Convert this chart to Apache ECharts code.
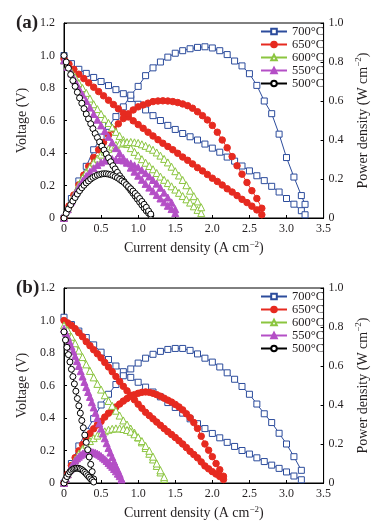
<!DOCTYPE html>
<html><head><meta charset="utf-8">
<script src="https://cdn.jsdelivr.net/npm/echarts@6/dist/echarts.min.js"></script>
<style>html,body{margin:0;padding:0;background:#fff}#c{width:378px;height:528px}</style>
</head><body><div id="c"></div>
<script>
// ---------- Panel (a) ----------
const a_I700 = [0,0.1,0.2,0.3,0.4,0.5,0.6,0.7,0.8,0.9,1.0,1.1,1.2,1.3,1.4,1.5,1.6,1.7,1.8,1.9,2.0,2.1,2.2,2.3,2.4,2.5,2.6,2.7,2.8,2.9,3.0,3.1,3.2,3.25];
const a_V700 = [1.00,0.95,0.915,0.89,0.865,0.84,0.815,0.79,0.765,0.735,0.70,0.665,0.63,0.60,0.57,0.545,0.52,0.50,0.48,0.455,0.43,0.405,0.375,0.35,0.32,0.29,0.26,0.23,0.195,0.16,0.12,0.085,0.045,0.02];
const a_P700 = [0,0.1,0.19,0.265,0.35,0.415,0.47,0.52,0.57,0.63,0.675,0.73,0.77,0.80,0.825,0.845,0.858,0.868,0.875,0.878,0.872,0.858,0.838,0.805,0.78,0.74,0.68,0.60,0.535,0.43,0.31,0.21,0.115,0.07];

const a_I650 = [0,0.067,0.133,0.2,0.267,0.333,0.4,0.467,0.533,0.6,0.667,0.733,0.8,0.867,0.933,1.0,1.067,1.133,1.2,1.267,1.333,1.4,1.467,1.533,1.6,1.667,1.733,1.8,1.867,1.933,2.0,2.067,2.133,2.2,2.267,2.333,2.4,2.467,2.533,2.6,2.667];
const a_V650 = [0.98,0.947,0.915,0.885,0.858,0.832,0.805,0.778,0.752,0.725,0.698,0.672,0.645,0.622,0.598,0.575,0.552,0.528,0.505,0.482,0.46,0.44,0.42,0.398,0.375,0.355,0.333,0.31,0.29,0.268,0.245,0.225,0.203,0.18,0.16,0.138,0.115,0.095,0.073,0.05,0.02];
const a_P650 = [0,0.062,0.118,0.17,0.22,0.265,0.31,0.35,0.388,0.425,0.455,0.483,0.51,0.534,0.554,0.57,0.58,0.589,0.597,0.6,0.601,0.6,0.597,0.592,0.585,0.576,0.563,0.545,0.525,0.503,0.475,0.44,0.4,0.36,0.315,0.268,0.225,0.182,0.14,0.10,0.05];

const a_I600 = [0,0.05,0.1,0.15,0.2,0.25,0.3,0.35,0.4,0.45,0.5,0.55,0.6,0.65,0.7,0.75,0.8,0.85,0.9,0.95,1.0,1.05,1.1,1.15,1.2,1.25,1.3,1.35,1.4,1.45,1.5,1.55,1.6,1.65,1.7,1.75,1.8,1.85];
const a_V600 = [0.97,0.935,0.90,0.865,0.83,0.80,0.77,0.735,0.70,0.67,0.64,0.61,0.585,0.557,0.53,0.505,0.48,0.455,0.43,0.407,0.385,0.362,0.34,0.32,0.30,0.277,0.255,0.235,0.215,0.195,0.175,0.155,0.135,0.115,0.095,0.072,0.05,0.03];
const a_P600 = [0,0.046,0.09,0.13,0.17,0.205,0.235,0.26,0.285,0.305,0.325,0.34,0.355,0.366,0.375,0.382,0.387,0.389,0.39,0.388,0.385,0.378,0.37,0.36,0.35,0.336,0.32,0.303,0.285,0.263,0.24,0.218,0.195,0.168,0.14,0.112,0.085,0.055];

const a_I550 = [0,0.05,0.1,0.15,0.2,0.25,0.3,0.35,0.4,0.45,0.5,0.55,0.6,0.65,0.7,0.75,0.8,0.85,0.9,0.95,1.0,1.05,1.1,1.15,1.2,1.25,1.3,1.35,1.4,1.45,1.5];
const a_V550 = [0.97,0.93,0.89,0.845,0.80,0.76,0.72,0.68,0.64,0.605,0.57,0.535,0.50,0.465,0.43,0.40,0.37,0.34,0.31,0.285,0.26,0.235,0.21,0.187,0.165,0.142,0.12,0.097,0.075,0.055,0.03];
const a_P550 = [0,0.045,0.085,0.125,0.16,0.19,0.215,0.237,0.255,0.272,0.285,0.294,0.30,0.302,0.30,0.298,0.295,0.288,0.28,0.27,0.26,0.245,0.23,0.213,0.195,0.176,0.155,0.13,0.105,0.08,0.045];

const a_I500 = [0,0.03,0.06,0.09,0.12,0.15,0.18,0.21,0.24,0.27,0.30,0.33,0.36,0.39,0.42,0.45,0.48,0.51,0.54,0.57,0.60,0.63,0.66,0.69,0.72,0.75,0.78,0.81,0.84,0.87,0.90,0.93,0.96,0.99,1.02,1.05,1.08,1.11,1.14,1.17];
const a_V500 = [1.0,0.96,0.922,0.883,0.846,0.81,0.774,0.739,0.706,0.673,0.64,0.61,0.58,0.55,0.52,0.495,0.468,0.442,0.418,0.394,0.37,0.346,0.322,0.302,0.281,0.26,0.242,0.224,0.206,0.188,0.17,0.152,0.134,0.116,0.098,0.08,0.062,0.044,0.03,0.015];
const a_P500 = [0,0.024,0.047,0.068,0.087,0.105,0.123,0.14,0.155,0.168,0.18,0.19,0.2,0.208,0.214,0.22,0.223,0.226,0.227,0.227,0.225,0.222,0.218,0.212,0.206,0.198,0.19,0.182,0.171,0.161,0.15,0.138,0.126,0.114,0.1,0.085,0.07,0.055,0.036,0.02];

// ---------- Panel (b) ----------
const b_I700 = [0,0.1,0.2,0.3,0.4,0.5,0.6,0.7,0.8,0.9,1.0,1.1,1.2,1.3,1.4,1.5,1.6,1.7,1.8,1.9,2.0,2.1,2.2,2.3,2.4,2.5,2.6,2.7,2.8,2.9,3.0,3.1,3.2];
const b_V700 = [1.02,0.975,0.935,0.895,0.85,0.805,0.76,0.72,0.685,0.65,0.62,0.59,0.56,0.53,0.495,0.465,0.43,0.395,0.365,0.335,0.305,0.278,0.25,0.225,0.2,0.178,0.155,0.132,0.11,0.09,0.068,0.043,0.02];
const b_P700 = [0,0.1,0.19,0.265,0.33,0.40,0.455,0.505,0.55,0.585,0.615,0.64,0.66,0.675,0.685,0.69,0.69,0.68,0.662,0.64,0.62,0.595,0.565,0.532,0.495,0.455,0.405,0.355,0.31,0.255,0.20,0.135,0.065];

const b_I650 = [0,0.05,0.1,0.15,0.2,0.25,0.3,0.35,0.4,0.45,0.5,0.55,0.6,0.65,0.7,0.75,0.8,0.85,0.9,0.95,1.0,1.05,1.1,1.15,1.2,1.25,1.3,1.35,1.4,1.45,1.5,1.55,1.6,1.65,1.7,1.75,1.8,1.85,1.9,1.95,2.0,2.05,2.1,2.15];
const b_V650 = [1.0,0.985,0.97,0.95,0.925,0.9,0.87,0.845,0.82,0.795,0.77,0.742,0.714,0.685,0.655,0.625,0.595,0.567,0.54,0.512,0.485,0.46,0.435,0.415,0.395,0.375,0.355,0.335,0.316,0.298,0.28,0.26,0.24,0.218,0.195,0.175,0.155,0.13,0.105,0.087,0.07,0.055,0.04,0.022];
const b_P650 = [0,0.045,0.09,0.13,0.165,0.197,0.227,0.254,0.278,0.298,0.316,0.338,0.358,0.375,0.39,0.405,0.42,0.433,0.444,0.453,0.46,0.465,0.467,0.465,0.46,0.453,0.445,0.435,0.425,0.415,0.403,0.39,0.375,0.355,0.335,0.31,0.28,0.24,0.2,0.168,0.135,0.1,0.068,0.035];

const b_I600 = [0,0.05,0.1,0.15,0.2,0.25,0.3,0.35,0.4,0.45,0.5,0.55,0.6,0.65,0.7,0.75,0.8,0.85,0.9,0.95,1.0,1.05,1.1,1.15,1.2,1.25,1.3,1.35];
const b_V600 = [0.97,0.94,0.90,0.86,0.815,0.775,0.73,0.69,0.65,0.61,0.575,0.54,0.505,0.475,0.445,0.415,0.385,0.36,0.335,0.31,0.28,0.25,0.215,0.18,0.145,0.105,0.065,0.025];
const b_P600 = [0,0.045,0.085,0.12,0.15,0.175,0.197,0.215,0.23,0.243,0.255,0.265,0.273,0.278,0.28,0.28,0.277,0.272,0.263,0.25,0.235,0.215,0.19,0.165,0.135,0.1,0.065,0.03];

const b_I550 = [0,0.025,0.05,0.075,0.1,0.125,0.15,0.175,0.2,0.225,0.25,0.275,0.3,0.325,0.35,0.375,0.4,0.425,0.45,0.475,0.5,0.525,0.55,0.575,0.6,0.625,0.65,0.675,0.7,0.725,0.75,0.775];
const b_V550 = [0.95,0.925,0.90,0.87,0.84,0.81,0.78,0.75,0.72,0.688,0.655,0.622,0.59,0.56,0.53,0.497,0.465,0.432,0.40,0.367,0.335,0.305,0.275,0.245,0.215,0.187,0.16,0.132,0.105,0.08,0.055,0.025];
const b_P550 = [0,0.023,0.045,0.066,0.085,0.1,0.115,0.126,0.135,0.143,0.15,0.155,0.158,0.16,0.16,0.159,0.157,0.154,0.15,0.145,0.138,0.13,0.122,0.113,0.103,0.093,0.083,0.072,0.06,0.048,0.035,0.018];

const b_I500 = [0,0.02,0.04,0.06,0.08,0.1,0.12,0.14,0.16,0.18,0.2,0.22,0.24,0.26,0.28,0.3,0.32,0.34,0.36,0.38,0.4];
const b_V500 = [0.93,0.88,0.835,0.79,0.745,0.70,0.655,0.61,0.565,0.52,0.475,0.43,0.385,0.34,0.295,0.25,0.205,0.16,0.115,0.07,0.025];
const b_P500 = [0,0.018,0.033,0.046,0.057,0.065,0.071,0.074,0.076,0.076,0.075,0.072,0.068,0.062,0.055,0.047,0.038,0.03,0.021,0.013,0.005];

const temps = ['700°C','650°C','600°C','550°C','500°C'];

const FONT = '"Liberation Serif","Times New Roman",serif';
const TXT = '#231f20';
const STY = {
  '700°C': {symbol:'rect', size:6, color:'#2c4c9c', fill:'#ffffff'},
  '650°C': {symbol:'circle', size:6.5, color:'#e62a20', fill:'#e62a20'},
  '600°C': {symbol:'triangle', size:7, color:'#8bc53f', fill:'#ffffff'},
  '550°C': {symbol:'triangle', size:7, color:'#b44fc6', fill:'#b44fc6'},
  '500°C': {symbol:'circle', size:6, color:'#000000', fill:'#ffffff'}
};
const zip = (I, Y) => I.map((x, i) => [x, Y[i]]);
const fmt = v => v === 0 ? '0' : v.toFixed(1);

function mk(name, I, Y, xi, yi) {
  const s = STY[name];
  return {
    type: 'line', name, xAxisIndex: xi, yAxisIndex: yi,
    data: zip(I, Y), symbol: s.symbol, symbolSize: s.size, showSymbol: true,
    lineStyle: {color: s.color, width: 1},
    itemStyle: {color: s.fill, borderColor: s.color, borderWidth: 1},
    emphasis: {disabled: true}, animation: false, z: 2
  };
}

const panels = [
  {pre:'a', sets:{'700°C':[a_I700,a_V700,a_P700],'650°C':[a_I650,a_V650,a_P650],'600°C':[a_I600,a_V600,a_P600],'550°C':[a_I550,a_V550,a_P550],'500°C':[a_I500,a_V500,a_P500]}},
  {pre:'b', sets:{'700°C':[b_I700,b_V700,b_P700],'650°C':[b_I650,b_V650,b_P650],'600°C':[b_I600,b_V600,b_P600],'550°C':[b_I550,b_V550,b_P550],'500°C':[b_I500,b_V500,b_P500]}}
];
const tops = [23, 288];

const grid = [], xAxis = [], yAxis = [], series = [], legend = [], graphic = [];
const axisCommon = {
  axisLine: {show: true, lineStyle: {color: '#000', width: 1}},
  axisTick: {show: true, inside: true, length: 3, lineStyle: {color: '#000'}},
  splitLine: {show: false},
  axisLabel: {fontFamily: FONT, fontSize: 12, color: TXT, formatter: fmt}
};
panels.forEach((p, k) => {
  grid.push({left: 64, top: tops[k], width: 265, height: 195, show: true, borderColor: '#000', borderWidth: 1, backgroundColor: 'transparent'});
  xAxis.push(Object.assign({}, axisCommon, {
    gridIndex: k, type: 'value', min: 0, max: 3.5, interval: 0.5,
    axisLabel: Object.assign({}, axisCommon.axisLabel, {margin: 5}),
    name: 'Current density (A cm{s|−2})', nameLocation: 'middle', nameGap: 22,
    nameTextStyle: {fontFamily: FONT, fontSize: 14, color: TXT, rich: {s: {fontFamily: FONT, fontSize: 9, color: TXT, padding: [0,0,8,0]}}}
  }));
  yAxis.push(Object.assign({}, axisCommon, {
    gridIndex: k, type: 'value', position: 'left', min: 0, max: 1.2, interval: 0.2,
    axisLabel: Object.assign({}, axisCommon.axisLabel, {margin: 9}),
    name: 'Voltage (V)', nameLocation: 'middle', nameGap: 33, nameRotate: 90,
    nameTextStyle: {fontFamily: FONT, fontSize: 14, color: TXT}
  }));
  yAxis.push(Object.assign({}, axisCommon, {
    gridIndex: k, type: 'value', position: 'right', min: 0, max: 1.0, interval: 0.2,
    axisLabel: Object.assign({}, axisCommon.axisLabel, {margin: 5}),
    name: 'Power density (W cm{s|−2})', nameLocation: 'middle', nameGap: 27, nameRotate: 90,
    nameTextStyle: {fontFamily: FONT, fontSize: 14, color: TXT, rich: {s: {fontFamily: FONT, fontSize: 9, color: TXT, padding: [0,0,8,0]}}}
  }));
  temps.forEach(t => {
    const [I, V, P] = p.sets[t];
    series.push(mk(t, I, V, k, 2*k));
    series.push(mk(t, I, P, k, 2*k+1));
  });
  legend.push({
    data: temps, orient: 'vertical', align: 'left', left: 260, top: tops[k] + 2,
    itemWidth: 26, itemHeight: 7, itemGap: 0, selectedMode: false, padding: 0,
    textStyle: {fontFamily: FONT, fontSize: 12.5, color: TXT, lineHeight: 12.8}
  });
  graphic.push({type: 'text', left: 16, top: tops[k] - 9,
    style: {text: '(' + p.pre + ')', font: 'bold 19px ' + FONT, fill: TXT}});
});

const chart = echarts.init(document.getElementById('c'), null, {renderer: 'canvas'});
chart.setOption({backgroundColor: '#fff', animation: false, grid, xAxis, yAxis, series, legend, graphic});
</script>
</body></html>
